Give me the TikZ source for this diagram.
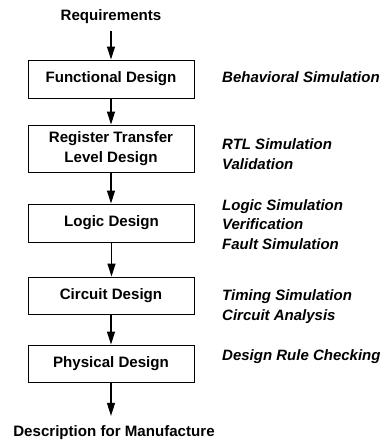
\documentclass[tikz,border=0pt]{standalone}
\usepackage{fontspec}
\setmainfont{Liberation Sans}
\usetikzlibrary{arrows.meta}
\begin{document}
\begin{tikzpicture}[x=1pt,y=-1pt,
  every node/.style={font=\fontsize{15.1}{19.5}\selectfont\bfseries},
  stage/.style={draw,line width=1pt,minimum width=166pt,inner sep=0pt,align=center},
  note/.style={anchor=base west,inner sep=0pt,align=left,font=\fontsize{15}{19.2}\selectfont\bfseries\itshape},
  arr/.style={line width=1.2pt,-{Triangle[length=13pt,width=8pt]}}]
\useasboundingbox (0,0) rectangle (387,440);
\node[anchor=base,inner sep=0pt] (req) at (111,20) {Requirements};
\node[stage,minimum height=38pt] (b1) at (111,79) {Functional Design};
\node[stage,minimum height=47pt] (b2) at (111,148.5) {Register Transfer\\Level Design};
\node[stage,minimum height=38pt] (b3) at (111.5,223) {Logic Design};
\node[stage,minimum height=37pt] (b4) at (111,295.5) {Circuit Design};
\node[stage,minimum height=37pt] (b5) at (111,363.5) {Physical Design};
\node[anchor=base,inner sep=0pt] (desc) at (114,436) {Description for Manufacture};
\node[note] (n1) at (222,82.5) {Behavioral Simulation};
\node[note] (n2) at (222,169) {RTL Simulation\\Validation};
\node[note] (n3) at (222,249) {Logic Simulation\\Verification\\Fault Simulation};
\node[note] (n4) at (222,320) {Timing Simulation\\Circuit Analysis};
\node[note] (n5) at (222,360) {Design Rule Checking};
\draw[arr,shorten <=8pt] (req.south) -- (b1.north);
\draw[arr] (b1) -- (b2);
\draw[arr] (b2.south) -- (b2.south |- b3.north);
\draw[arr] (b3.south) -- (b3.south |- b4.north);
\draw[arr] (b4) -- (b5);
\draw[arr,shorten >=9pt] (b5.south) -- (b5.south |- desc.north);
\end{tikzpicture}
\end{document}
